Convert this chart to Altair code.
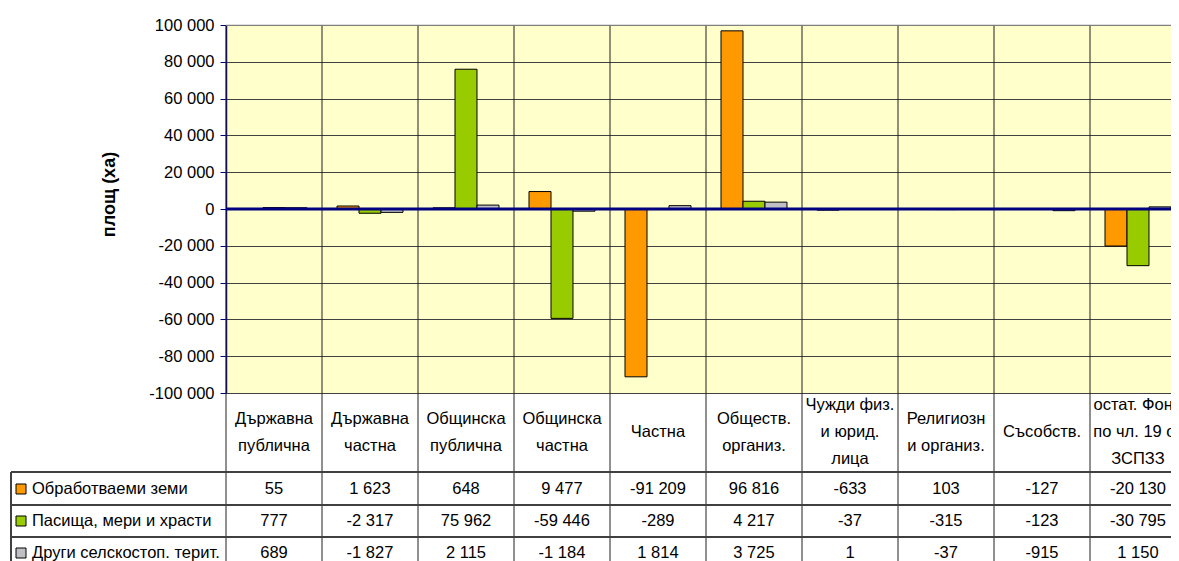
import altair as alt
import pandas as pd

categories = [
    "Държавна\nпублична",
    "Държавна\nчастна",
    "Общинска\nпублична",
    "Общинска\nчастна",
    "Частна",
    "Обществ.\nорганиз.",
    "Чужди физ.\nи юрид.\nлица",
    "Религиозн\nи организ.",
    "Съсобств.",
    "остат. Фонд\nпо чл. 19 от\nЗСПЗЗ",
]
series = ["Обработваеми земи", "Пасища, мери и храсти", "Други селскостоп. терит."]
arable = [55, 1623, 648, 9477, -91209, 96816, -633, 103, -127, -20130]
pasture = [777, -2317, 75962, -59446, -289, 4217, -37, -315, -123, -30795]
other = [689, -1827, 2115, -1184, 1814, 3725, 1, -37, -915, 1150]
y_ticks = [-100000, -80000, -60000, -40000, -20000, 0, 20000, 40000, 60000, 80000, 100000]
y_title = "площ (ха)"

colors = ["#FF9900", "#99CC00", "#C0C0C4"]
FONT = "Liberation Sans"
FS = 16.5
W_FULL = 960   # ten category columns
W = 945        # visible part of the plot (page is cut on the right)
H = 368
LH = 27

rows = []
for s, vals in zip(series, [arable, pasture, other]):
    for c, v in zip(categories, vals):
        rows.append({"cat": c, "series": s, "value": v})
df = pd.DataFrame(rows)
cat_df = pd.DataFrame({"cat": categories})

fmt = "replace(replace(format(datum.value, ','), regexp(',', 'g'), ' '), '\u2212', '-')"

xscale = alt.Scale(paddingInner=0, paddingOuter=0, range=[0, W_FULL])
X = alt.X("cat:N", sort=categories, scale=xscale, axis=None)
color_enc = alt.Color("series:N", sort=series,
                      scale=alt.Scale(domain=series, range=colors), legend=None)
yscale = alt.Scale(domain=[-100000, 100000], nice=False)
yaxis = alt.Axis(values=y_ticks, labelExpr=fmt, labelFont=FONT,
                 labelFontSize=FS, labelColor="black", labelPadding=6,
                 labelOverlap=False,
                 tickSize=6, tickColor="#000080", domainColor="#000080",
                 domainWidth=1.5, grid=True, gridColor="#404040",
                 gridWidth=1, title=y_title, titleFont=FONT,
                 titleFontSize=18, titleFontWeight="bold",
                 titleColor="black", titleX=-117, titleY=169,
                 titleBaseline="middle", titleAngle=270)
Y = alt.Y("value:Q", scale=yscale, axis=yaxis)

bars = alt.Chart(df).mark_bar(stroke="black", strokeWidth=1).encode(
    x=X,
    xOffset=alt.XOffset("series:N", sort=series,
                        scale=alt.Scale(paddingInner=0, paddingOuter=0.682)),
    y=Y,
    color=color_enc,
)

top_line = alt.Chart(pd.DataFrame({"value": [y_ticks[-1]]})).mark_rule(
    color="#BFBFBF", strokeWidth=1).encode(y=Y, x=alt.value(0), x2=alt.value(W_FULL))

vrules = alt.Chart(cat_df).mark_rule(color="#202020", strokeWidth=1).encode(
    x=alt.X("cat:N", sort=categories, scale=xscale, axis=None, bandPosition=0),
    y=alt.value(0), y2=alt.value(620))

zero = alt.Chart(pd.DataFrame({"value": [0]})).mark_rule(
    color="#000080", strokeWidth=2.8).encode(y=Y, x=alt.value(0), x2=alt.value(W_FULL))

layers = [vrules, top_line, bars, zero]

# column headers, centred in the header band (one layer per line count)
for n in (1, 2, 3):
    layers.append(alt.Chart(cat_df).mark_text(
        font=FONT, fontSize=FS, lineBreak="\n", lineHeight=LH,
        align="center", baseline="middle", color="black"
    ).transform_filter(f"length(split(datum.cat, '\\n')) == {n}").encode(
        x=X, text="cat:N", y=alt.value(407 - (n - 1) * LH / 2)))

line_color = "#404040"
for yy in [447, 480, 512, 544]:
    layers.append(alt.Chart(cat_df).mark_rule(color=line_color, strokeWidth=1).encode(
        x=alt.value(-215), x2=alt.value(W_FULL + 20), y=alt.value(yy)))
layers.append(alt.Chart(cat_df).mark_rule(color=line_color, strokeWidth=1).encode(
    x=alt.value(-215), y=alt.value(447), y2=alt.value(620)))

row_y = [464, 496, 528]
for i, s in enumerate(series):
    sub = df[df["series"] == s]
    layers.append(alt.Chart(sub).mark_text(
        font=FONT, fontSize=FS, align="center", baseline="middle", color="black"
    ).transform_calculate(label=fmt).encode(
        x=X, text="label:N", y=alt.value(row_y[i])))
    leg = pd.DataFrame({"series": [s]})
    layers.append(alt.Chart(leg).mark_rect(stroke="black", strokeWidth=1).encode(
        x=alt.value(-210), x2=alt.value(-200),
        y=alt.value(row_y[i] - 5), y2=alt.value(row_y[i] + 5),
        color=color_enc))
    layers.append(alt.Chart(leg).mark_text(
        font=FONT, fontSize=FS, align="left", baseline="middle", color="black"
    ).encode(x=alt.value(-194), y=alt.value(row_y[i]), text="series:N"))

chart = alt.layer(*layers).properties(
    width=W, height=H,
    background="white",
    autosize=alt.AutoSizeParams(type="none"),
    padding={"left": 218, "top": 17, "right": 0, "bottom": 168},
).configure_view(stroke=None, fill="#FFFFCC").configure_axis(labelOverlap=False)

chart.save("out.html", embed_options={"renderer": "svg", "actions": False})
